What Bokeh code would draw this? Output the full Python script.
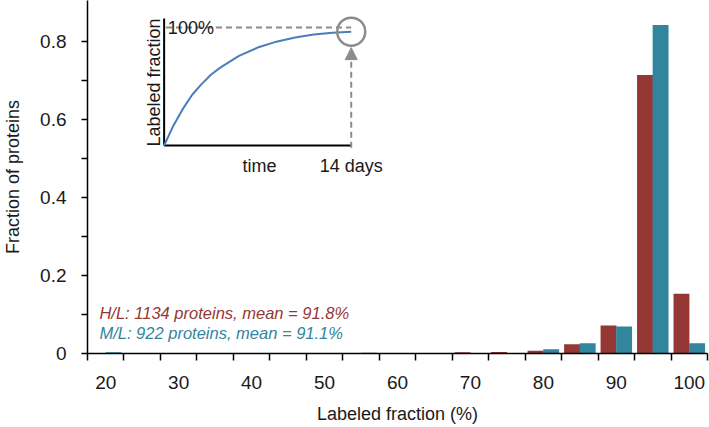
import math
from bokeh.plotting import figure
from bokeh.models import Range1d, FixedTicker, Label, Arrow, NormalHead
from bokeh.embed import file_html
from bokeh.resources import INLINE

# ---------------- data ----------------
bins = [20, 25, 30, 35, 40, 45, 50, 55, 60, 65, 70, 75, 80, 85, 90, 95, 100]
hl_fraction = [0.0, 0.0, 0.0, 0.0, 0.0, 0.0, 0.0, 0.0, 0.001, 0.001, 0.003, 0.004,
               0.007, 0.024, 0.072, 0.714, 0.153]
ml_fraction = [0.003, 0.0, 0.0, 0.0, 0.0, 0.0, 0.0, 0.002, 0.001, 0.001, 0.001, 0.001,
               0.011, 0.026, 0.069, 0.842, 0.026]
x_tick_values = [20, 30, 40, 50, 60, 70, 80, 90, 100]
x_tick_labels = ["20", "30", "40", "50", "60", "70", "80", "90", "100"]
y_tick_values = [0, 0.2, 0.4, 0.6, 0.8]
y_tick_labels = ["0", "0.2", "0.4", "0.6", "0.8"]
y_minor_values = [0.1, 0.3, 0.5, 0.7]
hl_text = "H/L: 1134 proteins, mean = 91.8%"
ml_text = "M/L: 922 proteins, mean = 91.1%"

# inset schematic (time fraction vs labeled fraction)
inset_time = [0.0, 0.05, 0.1, 0.15, 0.2, 0.25, 0.3, 0.4, 0.5, 0.6, 0.7, 0.8, 0.9, 1.0]
inset_labeled = [0.0, 0.17, 0.31, 0.43, 0.52, 0.60, 0.66, 0.76, 0.83, 0.88, 0.915, 0.94, 0.955, 0.965]

# ---------------- style ----------------
RED = "#953735"
TEAL = "#31859c"
GRAY = "#8c8c8c"
BLUE = "#4a7ebb"
FONT = "Liberation Sans"

W, H = 709, 427
BL, BR, BT, BB = 84, 2, 0, 74
bin_w = 5.0
bar_w = 2.18
offset = 1.07

frame_w = W - BL - BR
frame_h = H - BT - BB
px_per_unit_y = 390.0
y_end = frame_h / px_per_unit_y

p = figure(width=W, height=H, output_backend="svg", toolbar_location=None,
           x_range=Range1d(bins[0] - bin_w / 2, bins[-1] + bin_w / 2),
           y_range=Range1d(0, y_end),
           min_border_left=BL, min_border_right=BR, min_border_top=BT, min_border_bottom=BB)
p.outline_line_color = None
p.xgrid.visible = False
p.ygrid.visible = False
p.background_fill_color = "white"
p.border_fill_color = "white"

p.vbar(x=[b - offset for b in bins], top=hl_fraction, width=bar_w,
       fill_color=RED, line_color=None)
p.vbar(x=[b + offset for b in bins], top=ml_fraction, width=bar_w,
       fill_color=TEAL, line_color=None)

# x axis
xa = p.xaxis[0]
xa.ticker = FixedTicker(ticks=x_tick_values,
                        minor_ticks=[b - bin_w / 2 for b in bins] + [bins[-1] + bin_w / 2])
xa.major_label_overrides = {v: l for v, l in zip(x_tick_values, x_tick_labels)}
xa.major_tick_out = 0
xa.major_tick_in = 0
xa.minor_tick_out = 7
xa.minor_tick_in = 0
xa.minor_tick_line_color = "black"
xa.minor_tick_line_width = 1.5
xa.axis_line_width = 1.5
xa.axis_line_color = "black"
xa.major_label_standoff = 15
xa.major_label_text_font = FONT
xa.major_label_text_font_size = "19px"
xa.major_label_text_color = "#1a1a1a"
xa.axis_label = "Labeled fraction (%)"
xa.axis_label_text_font = FONT
xa.axis_label_text_font_size = "18px"
xa.axis_label_text_font_style = "normal"
xa.axis_label_text_color = "#1a1a1a"
xa.axis_label_standoff = 12

# y axis
ya = p.yaxis[0]
ya.ticker = FixedTicker(ticks=y_tick_values, minor_ticks=y_minor_values)
ya.major_label_overrides = {v: l for v, l in zip(y_tick_values, y_tick_labels)}
ya.major_tick_out = 6
ya.major_tick_in = 0
ya.minor_tick_out = 6
ya.minor_tick_in = 0
ya.major_tick_line_width = 1.5
ya.minor_tick_line_width = 1.5
ya.minor_tick_line_color = "black"
ya.axis_line_width = 1.5
ya.axis_line_color = "black"
ya.major_label_standoff = 15
ya.major_label_text_font = FONT
ya.major_label_text_font_size = "19px"
ya.major_label_text_color = "#1a1a1a"
ya.axis_label = "Fraction of proteins"
ya.axis_label_text_font = FONT
ya.axis_label_text_font_size = "18px"
ya.axis_label_text_font_style = "normal"
ya.axis_label_text_color = "#1a1a1a"
ya.axis_label_standoff = 14

# legend-like texts (data coordinates of the main plot)
x_to_data = (bins[-1] - bins[0] + bin_w) / frame_w
p.add_layout(Label(x=bins[0] - bin_w / 2 + 12 * x_to_data, y=40.5 / px_per_unit_y,
                   text=hl_text, text_font=FONT, text_font_size="16.5px",
                   text_font_style="italic", text_color=RED, text_baseline="alphabetic"))
p.add_layout(Label(x=bins[0] - bin_w / 2 + 12 * x_to_data, y=20.5 / px_per_unit_y,
                   text=ml_text, text_font=FONT, text_font_size="16.5px",
                   text_font_style="italic", text_color=TEAL, text_baseline="alphabetic"))

# ---------------- inset via extra ranges ----------------
ix0 = 161 - BL           # t=0 position from frame left (px)
ipx = 188.0              # px per unit t
iy0 = (BT + frame_h) - 145   # f=0 position from frame bottom (px)
ipy = 118.0              # px per unit f
p.extra_x_ranges = {"ix": Range1d(-ix0 / ipx, (frame_w - ix0) / ipx)}
p.extra_y_ranges = {"iy": Range1d(-iy0 / ipy, (frame_h - iy0) / ipy)}
kw = dict(x_range_name="ix", y_range_name="iy")

# inset axes
p.line([0, 0], [0, 1.076], line_color="black", line_width=2, **kw)
p.line([0, 1], [0, 0], line_color="black", line_width=2, **kw)
# 100% dashed line
p.line([0.01, 1.0], [1, 1], line_color=GRAY, line_width=2, line_dash="6 4", **kw)
# curve
p.line(inset_time, inset_labeled, line_color=BLUE, line_width=2, **kw)
# circle at end point
p.scatter([inset_time[-1]], [inset_labeled[-1]], size=28, marker="circle",
          fill_color=None, line_color=GRAY, line_width=2.5, **kw)
# dashed arrow up to the circle
p.add_layout(Arrow(end=NormalHead(size=12, fill_color=GRAY, line_color=GRAY, line_width=1),
                   x_start=inset_time[-1], y_start=-0.02,
                   x_end=inset_time[-1], y_end=inset_labeled[-1] - 16 / ipy,
                   line_color=GRAY, line_width=2, line_dash="6 4", **kw))

p.add_layout(Label(x=0.02, y=1.0, text="100%", text_font=FONT, text_font_size="18px",
                   text_color="#1a1a1a", text_baseline="alphabetic", **kw))
p.add_layout(Label(x=0.51, y=-20 / ipy, text="time", text_font=FONT, text_font_size="18px",
                   text_color="#1a1a1a", text_align="center", text_baseline="alphabetic", **kw))
p.add_layout(Label(x=1.0, y=-20 / ipy, text="14 days", text_font=FONT, text_font_size="18px",
                   text_color="#1a1a1a", text_align="center", text_baseline="alphabetic", **kw))
p.add_layout(Label(x=-10 / ipx, y=0.534, text="Labeled fraction", text_font=FONT,
                   text_font_size="18px", text_color="#1a1a1a", angle=math.pi / 2,
                   text_align="center", text_baseline="middle", **kw))

open("out.html", "w").write(file_html(p, INLINE))
